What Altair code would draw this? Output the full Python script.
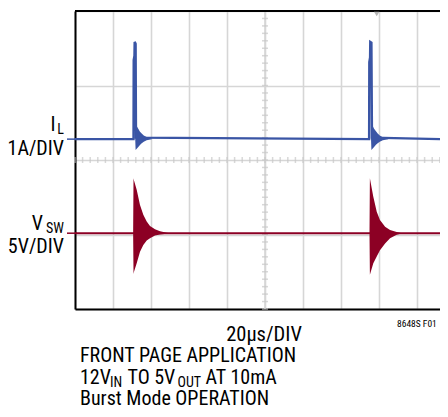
import altair as alt
import pandas as pd

# ---- data (time in µs, 20 µs/DIV; amplitude in scope divisions) ----
T_MAX = 192.1
x_grid = [0, 20, 40, 60, 80, 100, 120, 140, 160, 180]
y_grid = [-4, -3, -2, -1, 0, 1, 2, 3, 4]

# inductor current trace (blue): baseline + two spikes
il_t = [0, 30.8, 30.9, 31.3, 31.4, 31.9, 32.1, 154.8, 154.9, 155.3, 155.4, 156.0, 156.3, T_MAX]
il_v = [0.56, 0.56, 2.68, 2.80, 3.17, 3.12, 0.60, 0.56, 2.63, 2.75, 3.17, 3.15, 0.60, 0.56]

# ringing envelope after each IL spike
il_ring_burst = [1] * 9 + [2] * 9
il_ring_t = [31.7, 31.9, 32.6, 33.3, 34.2, 35.1, 36.2, 37.7, 40.4,
             155.8, 156.0, 156.7, 157.4, 158.4, 159.3, 160.4, 162.0, 164.8]
il_ring_hi = [0.56, 0.96, 0.90, 0.84, 0.76, 0.71, 0.66, 0.62, 0.58,
              0.56, 0.98, 0.91, 0.84, 0.77, 0.71, 0.66, 0.61, 0.57]
il_ring_lo = [0.56, 0.27, 0.31, 0.35, 0.40, 0.45, 0.49, 0.53, 0.56,
              0.56, 0.27, 0.31, 0.35, 0.41, 0.45, 0.49, 0.53, 0.56]

# switch node trace (red): baseline + ringing bursts
vsw_t = [0, T_MAX]
vsw_v = [-1.965, -1.965]
vsw_ring_burst = [1] * 12 + [2] * 9
vsw_ring_t = [30.6, 30.8, 31.05, 32.47, 34.21, 35.95, 37.74, 39.47, 42.1, 44.74, 48.26, 50.0,
              155.0, 155.2, 157.0, 158.8, 160.5, 163.2, 165.8, 169.3, 172.0]
vsw_ring_hi = [-1.97, -0.49, -0.55, -0.80, -1.21, -1.47, -1.65, -1.77, -1.86, -1.91, -1.95, -1.965,
               -1.97, -0.49, -0.985, -1.39, -1.61, -1.79, -1.88, -1.93, -1.965]
vsw_ring_lo = [-1.97, -3.06, -3.00, -2.77, -2.46, -2.28, -2.16, -2.10, -2.03, -2.00, -1.98, -1.97,
               -1.97, -3.08, -2.77, -2.59, -2.42, -2.24, -2.10, -2.01, -1.97]

trigger_t = [158.8]

BLUE = "#3a55a5"
RED = "#8c0024"
GRID = "#d6d6d6"
FONT = "Liberation Sans Narrow, Arial Narrow, Roboto Condensed, DejaVu Sans Condensed, sans-serif"

xs = alt.Scale(domain=[0, T_MAX], nice=False, zero=False)
ys = alt.Scale(domain=[-4, 4], nice=False, zero=False)

X = lambda f: alt.X(f, type="quantitative", scale=xs,
                    axis=alt.Axis(values=x_grid, grid=True, gridColor=GRID, gridWidth=1.6,
                                  labels=False, ticks=False, title=None,
                                  domainColor="black", domainWidth=2))
Y = lambda f: alt.Y(f, type="quantitative", scale=ys,
                    axis=alt.Axis(values=y_grid, grid=True, gridColor=GRID, gridWidth=1.6,
                                  labels=False, ticks=False, title=None,
                                  domainColor="black", domainWidth=2))

# minor ticks along the centre cross
minor_y = [round(-4 + 0.2 * i, 2) for i in range(41)]
minor_x = [round(4 * i, 2) for i in range(49)]
df_vt = pd.DataFrame({"t": [100] * len(minor_y), "v": minor_y})
df_ht = pd.DataFrame({"t": minor_x, "v": [0] * len(minor_x)})

base_grid = alt.Chart(pd.DataFrame({"t": [0], "v": [0]})).mark_point(opacity=0).encode(
    x=X("t"), y=Y("v"))

ticks_v = alt.Chart(df_vt).mark_tick(orient="horizontal", size=6, thickness=1.5, color="#c8c8c8").encode(
    x=alt.X("t:Q", scale=xs), y=alt.Y("v:Q", scale=ys))
ticks_h = alt.Chart(df_ht).mark_tick(orient="vertical", size=6, thickness=1.5, color="#c8c8c8").encode(
    x=alt.X("t:Q", scale=xs), y=alt.Y("v:Q", scale=ys))
center_v = alt.Chart(pd.DataFrame({"t": [100]})).mark_rule(color=GRID, strokeWidth=1.6).encode(
    x=alt.X("t:Q", scale=xs))

top_border = alt.Chart(pd.DataFrame({"v": [4]})).mark_rule(color="black", strokeWidth=2).encode(
    y=alt.Y("v:Q", scale=ys))

df_vsw = pd.DataFrame({"t": vsw_t, "v": vsw_v})
df_vsw_r = pd.DataFrame({"b": vsw_ring_burst, "t": vsw_ring_t, "hi": vsw_ring_hi, "lo": vsw_ring_lo})
df_il = pd.DataFrame({"t": il_t, "v": il_v})
df_il_r = pd.DataFrame({"b": il_ring_burst, "t": il_ring_t, "hi": il_ring_hi, "lo": il_ring_lo})

vsw_line = alt.Chart(df_vsw).mark_line(color=RED, strokeWidth=2).encode(
    x=alt.X("t:Q", scale=xs), y=alt.Y("v:Q", scale=ys))
vsw_area = alt.Chart(df_vsw_r).mark_area(color=RED, opacity=1).encode(
    x=alt.X("t:Q", scale=xs), y=alt.Y("hi:Q", scale=ys), y2="lo:Q", detail="b:N")
il_line = alt.Chart(df_il).mark_line(color=BLUE, strokeWidth=2.4).encode(
    x=alt.X("t:Q", scale=xs), y=alt.Y("v:Q", scale=ys))
il_area = alt.Chart(df_il_r).mark_area(color=BLUE, opacity=1).encode(
    x=alt.X("t:Q", scale=xs), y=alt.Y("hi:Q", scale=ys), y2="lo:Q", detail="b:N")

markers = alt.Chart(pd.DataFrame({"v": [il_v[0], vsw_v[0]], "c": ["il", "vsw"]})).mark_rule(strokeWidth=1.5).encode(
    x=alt.value(-8), x2=alt.value(2), y=alt.Y("v:Q", scale=ys),
    color=alt.Color("c:N", scale=alt.Scale(domain=["il", "vsw"], range=[BLUE, RED]), legend=None))

trig = alt.Chart(pd.DataFrame({"t": trigger_t})).mark_point(
    shape="triangle-down", filled=True, color="#b5b5b5", size=30, opacity=1).encode(
    x=alt.X("t:Q", scale=xs), y=alt.value(3))

one = pd.DataFrame({"a": [0]})


def txt(s, x, y, size, align="left"):
    return alt.Chart(one).mark_text(text=s, font=FONT, fontSize=size, align=align,
                                    baseline="alphabetic", color="black").encode(
        x=alt.value(x), y=alt.value(y))


texts = [
    txt("I", -19.5, 120, 20, "right"),
    txt("L", -11, 122.5, 14, "right"),
    txt("1A/DIV", -11, 144, 20, "right"),
    txt("V", -32, 219, 20, "right"),
    txt("SW", -11, 221.5, 14, "right"),
    txt("5V/DIV", -11, 242, 20, "right"),
    txt("20µs/DIV", 189, 330, 20.5, "center"),
    txt("8648S F01", 322, 316, 9.5),
    txt("FRONT PAGE APPLICATION", 5, 351, 20),
    txt("12V", 5, 372.5, 20),
    txt("IN", 35, 376, 14),
    txt("TO 5V", 52.5, 372.5, 20),
    txt("OUT", 102.5, 376, 14),
    txt("AT 10mA", 130.5, 372.5, 20),
    txt("Burst Mode OPERATION", 5, 393.5, 20),
]

chart = alt.layer(
    base_grid, center_v, ticks_v, ticks_h, top_border,
    vsw_line, vsw_area, il_line, il_area, markers, trig, *texts
).properties(
    width=365, height=298,
    autosize=alt.AutoSizeParams(type="none"),
    padding={"left": 67, "top": 3, "right": 0, "bottom": 100},
).configure_view(stroke=None)

chart.save("out.html", embed_options={"renderer": "svg", "actions": False})
